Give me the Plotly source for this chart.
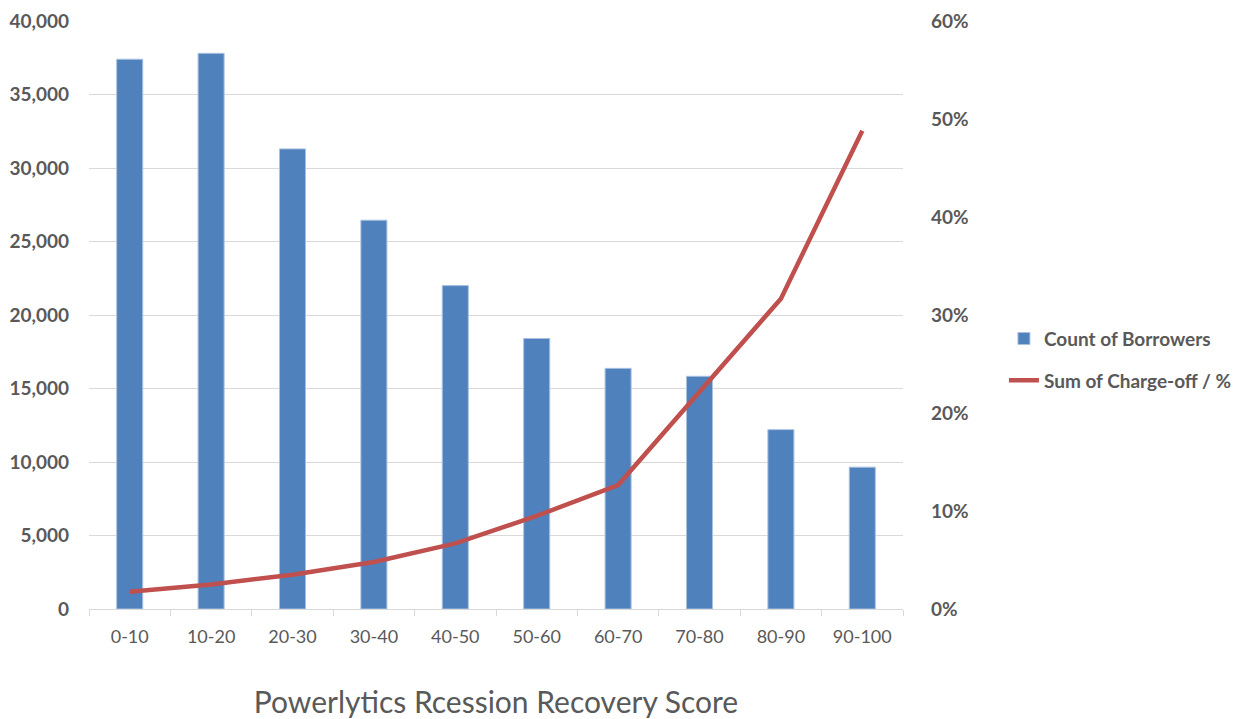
import plotly.graph_objects as go

categories = ["0-10", "10-20", "20-30", "30-40", "40-50", "50-60", "60-70", "70-80", "80-90", "90-100"]
borrowers = [37400, 37800, 31300, 26450, 22000, 18400, 16370, 15830, 12200, 9650]
chargeoff_pct = [0.0177, 0.025, 0.035, 0.048, 0.067, 0.095, 0.1265, 0.222, 0.3167, 0.488]

FONT = "Lato"
GRAY = "#595959"

fig = go.Figure()
fig.add_trace(go.Bar(
    x=categories, y=borrowers, name="Count of Borrowers",
    marker=dict(color="#4f81bd", line=dict(color="#a9c1e0", width=1)),
    width=0.32, legendgroup="a", yaxis="y",
))
fig.add_trace(go.Scatter(
    x=categories, y=chargeoff_pct, name="Sum of Charge-off / %",
    mode="lines", line=dict(color="#c0504d", width=4.5),
    legendgroup="b", yaxis="y2",
))

fig.update_layout(
    width=1241, height=711,
    margin=dict(l=81, r=340, t=13, b=110),
    plot_bgcolor="white", paper_bgcolor="white",
    font=dict(family=FONT, color=GRAY),
    showlegend=True,
    legend=dict(
        x=1.124, y=0.424, xanchor="left", yanchor="middle",
        font=dict(family=FONT, size=19, color=GRAY, weight="bold"),
        traceorder="grouped", tracegroupgap=14,
        itemwidth=30, bgcolor="rgba(0,0,0,0)",
    ),
    xaxis=dict(
        automargin=False,
        showgrid=False, showline=True, linecolor="#d9d9d9", linewidth=1,
        ticks="outside", tickson="boundaries", ticklen=6, tickcolor="#d9d9d9",
        tickfont=dict(family=FONT, size=18, color=GRAY),
        ticklabelstandoff=11,
        title=dict(text="Powerlytics Rcession Recovery Score",
                   font=dict(family=FONT, size=30, color=GRAY), standoff=53),
    ),
    yaxis=dict(
        automargin=False,
        range=[0, 40000], dtick=5000, tickformat=",",
        showgrid=True, gridcolor="#d9d9d9", gridwidth=1,
        zeroline=False, showline=False,
        tickfont=dict(family=FONT, size=19, color=GRAY, weight="bold"),
        ticklabelstandoff=19,
    ),
    yaxis2=dict(
        automargin=False,
        range=[0, 0.6], dtick=0.1, tickformat=".0%",
        overlaying="y", side="right", showgrid=False, zeroline=False, showline=False,
        tickfont=dict(family=FONT, size=19, color=GRAY, weight="bold"),
        ticklabelstandoff=27,
    ),
    bargap=0.6,
)

fig.write_html("out.html")
